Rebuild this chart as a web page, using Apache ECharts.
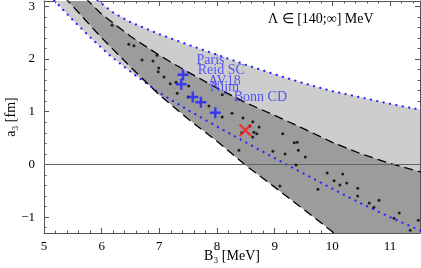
<!DOCTYPE html>
<html><head><meta charset="utf-8">
<script src="https://cdn.jsdelivr.net/npm/echarts@6/dist/echarts.min.js"></script>
<style>html,body{margin:0;padding:0;background:#fff}#c{width:421px;height:268px}</style>
</head><body><div id="c"></div>
<script>
// ---- data ----
const xMajorTicks = [5, 6, 7, 8, 9, 10, 11];
const yMajorTicks = [-1, 0, 1, 2, 3];

const lowerDottedX = [5.10, 5.17, 5.5, 5.83, 6.16, 6.5, 7.0, 7.5, 8.0, 8.5, 9.0, 9.5, 10.0, 10.5, 11.0, 11.52, 11.6];
const lowerDottedY = [3.20, 3.12, 2.74, 2.38, 2.05, 1.76, 1.36, 1.03, 0.72, 0.42, 0.12, -0.17, -0.46, -0.74, -1.00, -1.25, -1.29];
const upperDottedX = [5.85, 5.92, 6.2, 6.5, 7.0, 7.5, 8.0, 8.5, 9.0, 9.5, 10.0, 10.5, 11.0, 11.52, 11.6];
const upperDottedY = [3.20, 3.12, 2.88, 2.70, 2.47, 2.27, 2.08, 1.89, 1.71, 1.54, 1.39, 1.27, 1.15, 1.04, 1.02];
const lowerDashedX = [5.35, 5.40, 5.75, 6.0, 6.5, 7.0, 7.5, 8.0, 8.5, 9.0, 9.5, 10.03, 10.5, 11.6];
const lowerDashedY = [3.18, 3.12, 2.70, 2.40, 1.85, 1.32, 0.86, 0.44, -0.02, -0.43, -0.85, -1.30, -1.70, -2.6];
const upperDashedX = [5.72, 5.75, 6.0, 6.5, 7.0, 7.5, 8.0, 8.5, 9.0, 9.5, 10.0, 10.5, 11.0, 11.52, 11.6];
const upperDashedY = [3.16, 3.12, 2.85, 2.43, 2.07, 1.75, 1.45, 1.17, 0.93, 0.68, 0.42, 0.20, 0.02, -0.14, -0.17];

const dotsX = [6.18, 6.47, 6.56, 6.70, 6.89, 6.96, 6.99, 6.98, 7.08, 7.19, 7.29, 7.31, 7.50, 7.51, 7.86, 8.09, 8.26, 8.45, 8.62, 8.09, 8.57, 8.73, 8.64, 8.62, 8.69, 8.43, 8.38, 9.14, 8.97, 9.18, 9.34, 9.39, 9.41, 9.53, 9.37, 9.09, 9.91, 10.03, 10.18, 10.13, 10.25, 9.75, 10.44, 10.44, 10.64, 10.72, 10.81, 11.16, 11.07, 11.49, 11.35];
const dotsY = [2.64, 2.28, 2.25, 1.98, 1.96, 2.07, 1.83, 1.76, 1.66, 1.53, 1.56, 1.35, 1.28, 1.49, 1.11, 1.32, 0.97, 0.88, 0.81, 0.90, 0.73, 0.71, 0.61, 0.52, 0.58, 0.60, 0.27, 0.58, 0.25, 0.20, 0.41, 0.42, 0.27, 0.14, -0.01, -0.41, -0.16, -0.31, -0.18, -0.39, -0.35, -0.47, -0.45, -0.60, -0.73, -0.81, -0.68, -0.92, -1.02, -1.06, -1.25];

const potentialNames = ['Paris', 'Reid SC', 'AV18', 'Nijm', 'Bonn CD'];
const potentialB3 = [7.41, 7.38, 7.58, 7.72, 7.97];
const potentialA3 = [1.70, 1.52, 1.28, 1.18, 0.98];

const markB3 = [8.49];
const markA3 = [0.65];

const zeroLevel = 0;

// ---- styling ----
const FONT = '"Liberation Serif","Times New Roman",serif';
const FRAME = '#555';
const labelOffsets = [[8, -14], [11, -14], [10, -16], [4, -15], [13, -15]];

function pairs(xs, ys) { return xs.map((x, i) => [x, ys[i]]); }

const xMinorTicks = [], yMinorTicks = [];
for (let k = 25; k <= 57; k++) if (k % 5) xMinorTicks.push(k / 5);
for (let k = -6; k <= 15; k++) if (k % 5) yMinorTicks.push(k / 5);

function xAxisDef(pos, ticks, len, withLabels) {
  return {
    type: 'value', min: 5, max: 11.52, position: pos,
    axisLine: { show: withLabels !== null, onZero: false, lineStyle: { color: FRAME, width: 1 } },
    axisTick: { show: true, inside: true, length: len, customValues: ticks, lineStyle: { color: FRAME, width: 1 } },
    axisLabel: withLabels ? { show: true, customValues: ticks, margin: 7, color: '#000', fontFamily: FONT, fontSize: 13 } : { show: false },
    splitLine: { show: false }
  };
}
function yAxisDef(pos, ticks, len, withLabels) {
  return {
    type: 'value', min: -1.3, max: 3.1, position: pos,
    axisLine: { show: withLabels !== null, onZero: false, lineStyle: { color: FRAME, width: 1 } },
    axisTick: { show: true, inside: true, length: len, customValues: ticks, lineStyle: { color: FRAME, width: 1 } },
    axisLabel: withLabels ? { show: true, customValues: ticks, margin: 9, color: '#000', fontFamily: FONT, fontSize: 13,
      formatter: v => (v < 0 ? '\u2212' + Math.abs(v) : String(v)) } : { show: false },
    splitLine: { show: false }
  };
}

const xAxes = [
  Object.assign(xAxisDef('bottom', xMajorTicks, 5, true), {
    name: 'B\u2083 [MeV]', nameLocation: 'middle', nameGap: 16, nameMoveOverlap: false,
    nameTextStyle: { color: '#000', fontFamily: FONT, fontSize: 14 }
  }),
  xAxisDef('top', xMajorTicks, 5, false),
  xAxisDef('bottom', xMinorTicks, 2.5, null),
  xAxisDef('top', xMinorTicks, 2.5, null)
];
const yAxes = [
  Object.assign(yAxisDef('left', yMajorTicks, 5, true), {
    name: 'a\u2083 [fm]', nameLocation: 'middle', nameGap: 26, nameRotate: 90, nameMoveOverlap: false,
    nameTextStyle: { color: '#000', fontFamily: FONT, fontSize: 14 }
  }),
  yAxisDef('right', yMajorTicks, 5, false),
  yAxisDef('left', yMinorTicks, 2.5, null),
  yAxisDef('right', yMinorTicks, 2.5, null)
];

function band(lx, ly, ux, uy, color, z) {
  return {
    type: 'custom', coordinateSystem: 'cartesian2d', xAxisIndex: 0, yAxisIndex: 0,
    clip: true, silent: true, z: z, data: [[8, 1]],
    renderItem: function (params, api) {
      const pts = [];
      for (let i = 0; i < lx.length; i++) pts.push(api.coord([lx[i], ly[i]]));
      for (let i = ux.length - 1; i >= 0; i--) pts.push(api.coord([ux[i], uy[i]]));
      return { type: 'polygon', shape: { points: pts }, style: { fill: color } };
    }
  };
}
function curve(xs, ys, style, z) {
  return { type: 'line', data: pairs(xs, ys), symbol: 'none', showSymbol: false, silent: true, clip: true,
    z: z, lineStyle: style, xAxisIndex: 0, yAxisIndex: 0 };
}

const PLUS = 'path://M3.9,0H6.1V3.9H10V6.1H6.1V10H3.9V6.1H0V3.9H3.9Z';
const PLUS_THIN = 'path://M4.3,0H5.7V4.3H10V5.7H5.7V10H4.3V5.7H0V4.3H4.3Z';

const dotted = { color: '#2424ff', width: 2.2, type: [0.1, 6.4], cap: 'round' };
const dashed = { color: '#000', width: 1.3, type: [9, 5] };

const option = {
  animation: false,
  backgroundColor: '#fff',
  grid: { left: 44, right: 1, top: 1, bottom: 35, containLabel: false, outerBoundsMode: 'none' },
  xAxis: xAxes,
  yAxis: yAxes,
  graphic: [{
    type: 'text', left: 268, top: 12,
    style: { text: '\u039B \u2208 [140;\u221E] MeV', fill: '#000', font: '14px ' + FONT }
  }],
  series: [
    band(lowerDottedX, lowerDottedY, upperDottedX, upperDottedY, '#cdcdcd', 1),
    band(lowerDashedX, lowerDashedY, upperDashedX, upperDashedY, '#9c9c9c', 2),
    curve(lowerDottedX, lowerDottedY, dotted, 3),
    curve(upperDottedX, upperDottedY, dotted, 3),
    curve(lowerDashedX, lowerDashedY, dashed, 4),
    curve(upperDashedX, upperDashedY, dashed, 4),
    {
      type: 'scatter', z: 6, silent: true, symbol: 'circle', symbolSize: 3,
      itemStyle: { color: '#000' }, data: pairs(dotsX, dotsY),
      markLine: { silent: true, symbol: 'none', label: { show: false }, animation: false,
        lineStyle: { color: '#5f665f', width: 1, type: 'solid' }, data: [{ yAxis: zeroLevel }] }
    },
    {
      type: 'scatter', z: 7, silent: true, symbol: PLUS, symbolSize: 11,
      itemStyle: { color: '#2020ff' },
      label: { show: true, position: 'right', distance: 0, color: '#3535ff', fontFamily: FONT, fontSize: 14,
        formatter: p => p.name },
      data: potentialNames.map((n, i) => ({ name: n, value: [potentialB3[i], potentialA3[i]],
        label: { offset: labelOffsets[i] } }))
    },
    {
      type: 'scatter', z: 8, silent: true, symbol: PLUS_THIN, symbolSize: 16, symbolRotate: 45,
      itemStyle: { color: '#ff1a1a' }, data: pairs(markB3, markA3)
    }
  ]
};

const chart = echarts.init(document.getElementById('c'), null, { renderer: 'canvas', width: 421, height: 268 });
chart.setOption(option);
</script>
</body></html>
